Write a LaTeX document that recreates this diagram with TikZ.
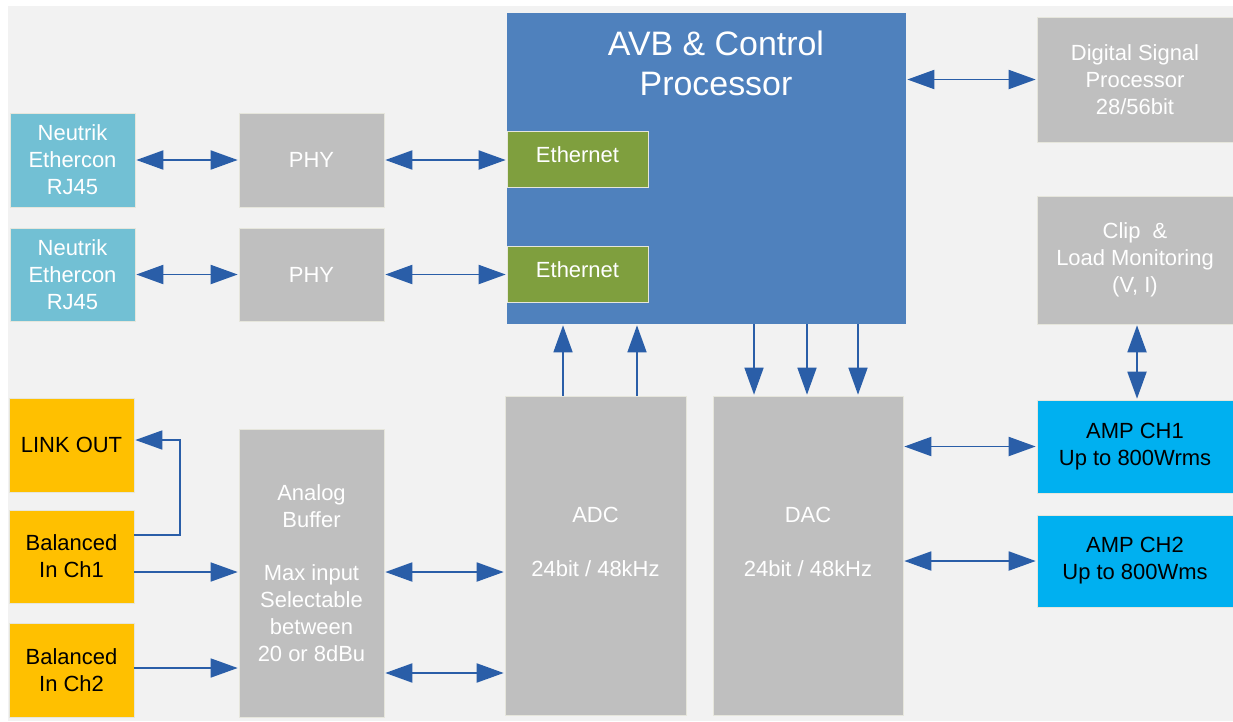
\documentclass[tikz,border=0pt]{standalone}
\usepackage{fontspec}
\setmainfont{Liberation Sans}
\usetikzlibrary{arrows.meta}
\definecolor{cBg}{HTML}{F2F2F2}
\definecolor{cGray}{HTML}{BFBFBF}
\definecolor{cNeut}{HTML}{72C0D4}
\definecolor{cBlue}{HTML}{4F81BD}
\definecolor{cGreen}{HTML}{7F9F3E}
\definecolor{cYel}{HTML}{FFC000}
\definecolor{cAmp}{HTML}{00B0F0}
\definecolor{cArr}{HTML}{2A5EA8}
\definecolor{cEdge}{HTML}{E6E6DC}
\newcommand\boxfont{\fontsize{12.5}{15.3}\selectfont}
\newcommand\titlefont{\fontsize{19.3}{22.7}\selectfont}
\begin{document}
\begin{tikzpicture}[x=0.02cm, y=-0.02cm,
  blk/.style={draw=cEdge, line width=0.5pt, inner sep=2pt, align=center, font=\boxfont, text=white},
  sz/.style 2 args={minimum width=#1*0.02cm, minimum height=#2*0.02cm},
  arr/.style={draw=cArr, line width=1.1pt, -{Triangle[length=0.54cm,width=0.38cm]}, shorten >=0.5pt},
  darr/.style={draw=cArr, line width=1.1pt, {Triangle[length=0.54cm,width=0.38cm]}-{Triangle[length=0.54cm,width=0.38cm]}, shorten >=0.5pt, shorten <=0.5pt},
  larr/.style={draw=cArr, line width=0.9pt, -{Triangle[length=0.54cm,width=0.38cm]}, shorten >=0.5pt}
]
\useasboundingbox (0,0) rectangle (1233,721);
\fill[white] (0,0) rectangle (1233,721);
\fill[cBg] (8,6) rectangle (1233,721);

% left connectors
\node[blk, fill=cNeut, sz={125}{94}] (n1) at (72.5,160) {Neutrik\\Ethercon\\RJ45};
\node[blk, fill=cNeut, sz={125}{93}] (n2) at (72.5,274.5) {Neutrik\\Ethercon\\RJ45};
\node[blk, fill=cGray, sz={145}{94}] (phy1) at (311.5,160) {PHY};
\node[blk, fill=cGray, sz={145}{93}] (phy2) at (311.5,274.5) {PHY};

% AVB processor
\node[blk, fill=cBlue, draw=none, sz={399}{311}] (avb) at (706.5,168.5) {};
\node[font=\titlefont, text=white, align=center] (avbt) at (716,63) {AVB \& Control\\Processor};
\node[blk, fill=cGreen, sz={141}{56}] (eth1) at (577.5,159) {Ethernet\\[-10pt]\mbox{}};
\node[blk, fill=cGreen, sz={141}{56}] (eth2) at (577.5,274) {Ethernet\\[-10pt]\mbox{}};

% right column
\node[blk, fill=cGray, sz={196}{125}] (dsp) at (1135,79.5) {Digital Signal\\Processor\\28/56bit};
\node[blk, fill=cGray, sz={196}{128}] (clip) at (1135,260) {Clip\ \ \&\\Load Monitoring\\(V, I)};
\node[blk, fill=cAmp, text=black, sz={196}{93}] (amp1) at (1135,446.5) {AMP CH1\\Up to 800Wrms};
\node[blk, fill=cAmp, text=black, sz={196}{92}] (amp2) at (1135,561) {AMP CH2\\Up to 800Wms};

% converters
\node[blk, fill=cGray, sz={181}{319}] (adc) at (595.5,555.5) {ADC\\\mbox{}\\24bit / 48kHz\\\mbox{}};
\node[blk, fill=cGray, sz={190}{319}] (dac) at (808,555.5) {DAC\\\mbox{}\\24bit / 48kHz\\\mbox{}};
\node[blk, fill=cGray, sz={145}{288}] (buf) at (311.5,573) {Analog\\Buffer\\\mbox{}\\Max input\\Selectable\\between\\20 or 8dBu};

% analog I/O
\node[blk, fill=cYel, text=black, sz={125}{94}] (link) at (71.5,445) {LINK OUT};
\node[blk, fill=cYel, text=black, sz={125}{93}] (ch1) at (71.5,556.5) {Balanced\\In Ch1};
\node[blk, fill=cYel, text=black, sz={125}{94}] (ch2) at (71.5,670) {Balanced\\In Ch2};

% connectors
\draw[darr] (n1.east) -- (phy1.west);
\draw[darr] (n2.east) -- (phy2.west);
\draw[darr] (phy1.east) -- (phy1.east -| eth1.west);
\draw[darr] (phy2.east) -- (phy2.east -| eth2.west);
\draw[darr] (avb.east |- dsp.west) -- (dsp.west);

\draw[larr] ([xshift=-0.65cm]adc.north) -- ([xshift=-0.65cm]adc.north |- avb.south);
\draw[larr] ([xshift=0.83cm]adc.north) -- ([xshift=0.83cm]adc.north |- avb.south);
\draw[larr] ([xshift=-1.08cm]dac.north |- avb.south) -- ([xshift=-1.08cm]dac.north);
\draw[larr] ([xshift=-0.02cm]dac.north |- avb.south) -- ([xshift=-0.02cm]dac.north);
\draw[larr] ([xshift=1.0cm]dac.north |- avb.south) -- ([xshift=1.0cm]dac.north);

\draw[darr] ([xshift=0.04cm]clip.south) -- ([xshift=0.04cm]amp1.north);
\draw[darr] (dac.east |- amp1.west) -- (amp1.west);
\draw[darr] (dac.east |- amp2.west) -- (amp2.west);

\draw[darr] ([yshift=0.02cm]buf.east) -- ([yshift=0.02cm]buf.east -| adc.west);
\draw[darr] ([yshift=-2cm]buf.east) -- ([yshift=-2cm]buf.east -| adc.west);

\draw[larr] ([yshift=-0.31cm]ch1.east) -- ([yshift=-0.31cm]ch1.east -| buf.west);
\draw[larr] ([yshift=0.04cm]ch2.east) -- ([yshift=0.04cm]ch2.east -| buf.west);

\coordinate (lk) at (180,440);
\draw[larr] ([yshift=0.43cm]ch1.east) -| (lk) -- (lk -| link.east);
\end{tikzpicture}
\end{document}
